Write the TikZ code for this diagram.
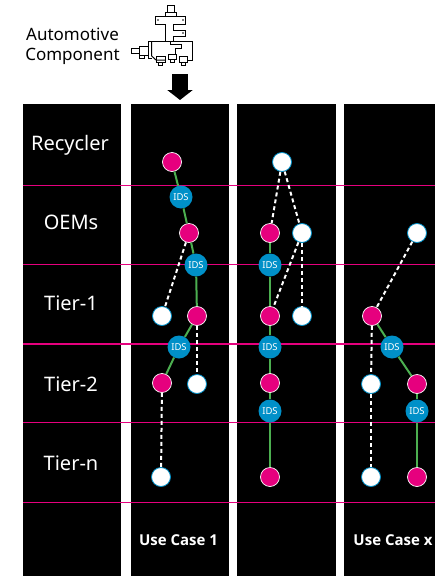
\documentclass[tikz,border=0pt]{standalone}
\usepackage{fontspec}
\setmainfont{Noto Sans}
\newfontfamily\casefont{Open Sans}
\usetikzlibrary{arrows.meta}
\definecolor{hotpink}{HTML}{E6007E}
\definecolor{idsblue}{HTML}{0090C8}
\definecolor{linkgreen}{HTML}{4CAF50}
\tikzset{x=1pt,y=-1pt,
	panel/.style={fill=black,draw=none},
	tier/.style={text=white,font=\fontsize{20}{24}\selectfont},
	usecase/.style={text=white,font=\casefont\bfseries\fontsize{15}{16}\selectfont},
	pinknode/.style={circle,draw=white,line width=0.7pt,fill=hotpink,minimum size=19pt,inner sep=0pt},
	whitenode/.style={circle,draw=idsblue,line width=0.8pt,fill=white,minimum size=19pt,inner sep=0pt},
	idsnode/.style={circle,fill=idsblue,text=white,minimum size=23pt,inner sep=0pt,font=\fontsize{9.5}{10}\selectfont},
	trust/.style={draw=linkgreen,line width=2pt},
	notrust/.style={draw=white,line width=2pt,dash pattern=on 4pt off 3pt},
}
\begin{document}
\begin{tikzpicture}
	\useasboundingbox (0,0) rectangle (435,576);
	% columns
	\fill[panel] (23,104) rectangle (121,576);
	\fill[panel] (131,104) rectangle (229,576);
	\fill[panel] (237,104) rectangle (336,576);
	\fill[panel] (344,104) rectangle (435,576);
	\foreach \y in {185.3,264.7,344,422.7,502.7}
		\draw[hotpink,line width=1.2pt] (23,\y) -- (435,\y);

	% component
	\node (title) at (72.5,46.5) [align=center,font=\fontsize{17}{20}\selectfont] {Automotive\\Component};
	\begin{scope}[line width=1pt]
		\draw (167.5,5) rectangle (174,12);
		\draw (165,12) rectangle (176,16);
		\draw (165.7,41.7) -- (165.7,24) -- (155,24) -- (155,16) -- (185.7,16) -- (185.7,24) -- (173.3,24) -- (173.3,30.7) -- (185.7,30.7) -- (185.7,36.7) -- (173.3,36.7) -- (173.3,41.7);
		\fill (158,20) circle (0.8);
		\fill (183,20) circle (0.8);
		\fill (183,33) circle (0.8);
		\draw (165,60) -- (156,60) -- (151.7,56) -- (151.7,41.7);
		\draw (148.3,41.7) -- (192.7,41.7) -- (192.7,60) -- (187.3,60);
		\draw (148.3,41.7) -- (148.3,58) -- (151.7,58);
		\draw (139,46.3) rectangle (148.3,55.7);
		\draw (131,48.3) rectangle (139,53);
		\draw (139,55.7) -- (139,58.5) -- (144,58.5) -- (144,55.7);
		\draw (170.7,41.7) -- (170.7,44) -- (181.7,44) -- (181.7,48) -- (175,48) -- (175,54);
		\draw (156,56.7) rectangle (165,62.3);
		\draw (158.5,62.3) rectangle (162.5,65.7);
		\draw (168.3,54) rectangle (176.7,59.3);
		\draw (170.7,59.3) rectangle (174.5,62.7);
		\draw (179.3,56.7) rectangle (187.3,62.3);
		\draw (181.7,62.3) rectangle (185,65.7);
	\end{scope}
	\coordinate (arrowtop) at (180,74);
	\coordinate (arrowtip) at (180,100);
	\draw[line width=16pt,-{Triangle[length=10pt,width=25pt]}] (arrowtop) -- (arrowtip);

	% tiers
	\node[tier] (recycler) at (70,145) {Recycler};
	\node[tier] (oems) at (71,222) {OEMs};
	\node[tier] (tierone) at (71,303) {Tier-1};
	\node[tier] (tiertwo) at (71,384) {Tier-2};
	\node[tier] (tiern) at (71,463) {Tier-n};
	\node[usecase] (caseone) at (178.5,540) {Use Case 1};
	\node[usecase] (casex) at (393,540) {Use Case x};

	% use case 1
	\node[pinknode] (A1) at (172,162) {};
	\node[idsnode] (A2) at (181,197) {IDS};
	\node[pinknode] (A3) at (189,233) {};
	\node[idsnode] (A4) at (196,265) {IDS};
	\node[whitenode] (A5) at (162,316) {};
	\node[pinknode] (A6) at (197,316) {};
	\node[idsnode] (A7) at (179,347) {IDS};
	\node[pinknode] (A8) at (162,383) {};
	\node[whitenode] (A9) at (197,384) {};
	\node[whitenode] (A10) at (161,477) {};

	% use case 2
	\node[whitenode] (B1) at (282,162) {};
	\node[pinknode] (B2) at (270,233) {};
	\node[whitenode] (B3) at (302,233) {};
	\node[idsnode] (B4) at (270,265) {IDS};
	\node[pinknode] (B5) at (270,316) {};
	\node[whitenode] (B6) at (302,316) {};
	\node[idsnode] (B7) at (270,347) {IDS};
	\node[pinknode] (B8) at (270,383) {};
	\node[idsnode] (B9) at (270,411) {IDS};
	\node[pinknode] (B10) at (270,477) {};

	% use case x
	\node[whitenode] (C1) at (417,233) {};
	\node[pinknode] (C2) at (372,316) {};
	\node[idsnode] (C3) at (392,347) {IDS};
	\node[whitenode] (C4) at (371,384) {};
	\node[pinknode] (C5) at (417,384) {};
	\node[idsnode] (C6) at (417,411) {IDS};
	\node[whitenode] (C7) at (371,477) {};
	\node[pinknode] (C8) at (417,477) {};

	\begin{scope}[every edge/.style={trust}]
		\path (A1) edge (A2) (A2) edge (A3) (A3) edge (A4) (A4) edge (A6) (A6) edge (A7) (A7) edge (A8);
		\path (B2) edge (B4) (B4) edge (B5) (B5) edge (B7) (B7) edge (B8) (B8) edge (B9) (B9) edge (B10);
		\path (C2) edge (C3) (C3) edge (C5) (C5) edge (C6) (C6) edge (C8);
	\end{scope}

	\begin{scope}[every edge/.style={notrust}]
		\path (A3) edge (A5) (A6) edge (A9) (A8) edge (A10);
		\path (B1) edge (B2) (B1) edge (B3) (B3) edge (B5) (B3) edge (B6);
		\path (C1) edge (C2) (C2) edge (C4) (C4) edge (C7);
	\end{scope}
\end{tikzpicture}
\end{document}
